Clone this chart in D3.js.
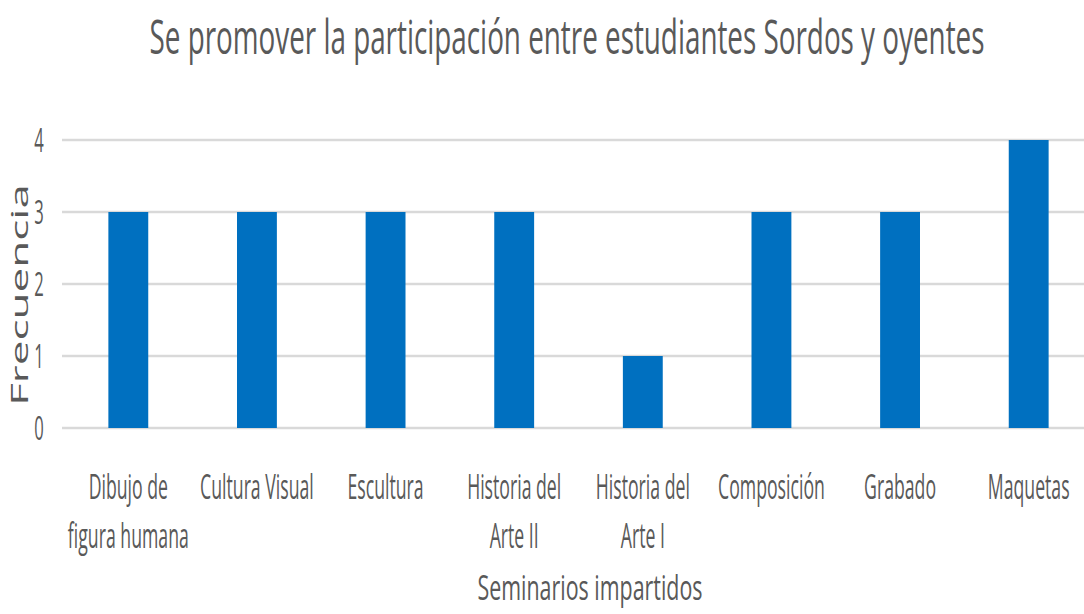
<!DOCTYPE html>
<html>
<head>
<meta charset="utf-8">
<script src="https://cdn.jsdelivr.net/npm/d3@7"></script>
<style>
    body { margin: 0; background: #fff; }
    text { font-family: "Open Sans", sans-serif; fill: #595959; }
</style>
</head>
<body>
<svg id="chart" width="1084" height="614"></svg>
<script>
// data
const categories = ['Dibujo de figura humana', 'Cultura Visual', 'Escultura', 'Historia del Arte II',
    'Historia del Arte I', 'Composición', 'Grabado', 'Maquetas'];
const categoryLines = [['Dibujo de', 'figura humana'], ['Cultura Visual'], ['Escultura'], ['Historia del', 'Arte II'],
    ['Historia del', 'Arte I'], ['Composición'], ['Grabado'], ['Maquetas']];
const frecuencia = [3, 3, 3, 3, 1, 3, 3, 4];
const yTicks = [0, 1, 2, 3, 4];
const chartTitle = 'Se promover la participación entre estudiantes Sordos y oyentes';
const xTitle = 'Seminarios impartidos';
const yTitle = 'Frecuencia';

const K = 0.52; // horizontal squash of the text
const margin = {top: 140, left: 62, bottom: 186};
const width = 1084, height = 614;
const plotBottom = height - margin.bottom;

const svg = d3.select('#chart');

const x = d3.scaleBand()
    .domain(categories)
    .range([64, 1093])
    .paddingInner(0.69)
    .paddingOuter(0.345);

const y = d3.scaleLinear()
    .domain([0, 4])
    .range([plotBottom, margin.top]);

// gridlines
svg.append('g')
    .selectAll('line')
    .data(yTicks)
    .enter()
    .append('line')
    .attr('x1', margin.left)
    .attr('x2', width)
    .attr('y1', d => y(d))
    .attr('y2', d => y(d))
    .attr('stroke', '#d9d9d9')
    .attr('stroke-width', 2.5);

// y tick labels
svg.append('g')
    .selectAll('text')
    .data(yTicks)
    .enter()
    .append('text')
    .attr('transform', d => `translate(39,${y(d)}) scale(${K},1)`)
    .attr('dy', '0.36em')
    .style('font-size', '32px')
    .style('text-anchor', 'middle')
    .text(d => d);

// bars
svg.append('g')
    .selectAll('rect')
    .data(frecuencia)
    .enter()
    .append('rect')
    .attr('x', (d, i) => x(categories[i]))
    .attr('y', d => y(d))
    .attr('width', x.bandwidth())
    .attr('height', d => y(0) - y(d))
    .attr('fill', '#0070c0');

// x tick labels
const xLabels = svg.append('g')
    .selectAll('g')
    .data(categoryLines)
    .enter()
    .append('g')
    .attr('transform', (d, i) => `translate(${x(categories[i]) + x.bandwidth() / 2},499)`);

xLabels.selectAll('text')
    .data(d => d)
    .enter()
    .append('text')
    .attr('transform', (d, j) => `translate(0,${j * 49}) scale(${K},1)`)
    .style('font-size', '34px')
    .style('text-anchor', 'middle')
    .text(d => d);

// titles
svg.append('text')
    .attr('transform', 'translate(567,54) scale(0.58,1)')
    .style('font-size', '48px')
    .style('text-anchor', 'middle')
    .text(chartTitle);

svg.append('text')
    .attr('transform', 'translate(590,600) scale(0.612,1)')
    .style('font-size', '35px')
    .style('text-anchor', 'middle')
    .text(xTitle);

svg.append('text')
    .attr('transform', `translate(28,295) scale(${K},1) rotate(-90)`)
    .style('font-size', '44px')
    .style('text-anchor', 'middle')
    .text(yTitle);
</script>
</body>
</html>
